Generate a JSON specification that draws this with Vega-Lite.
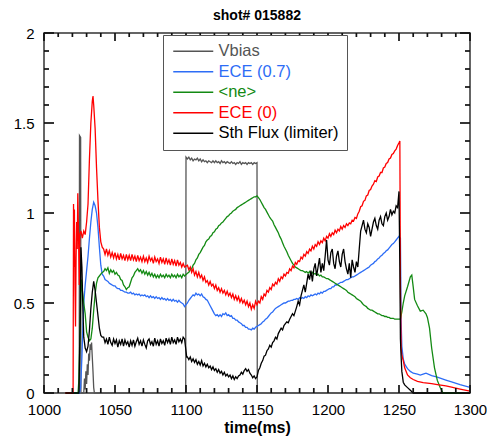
{
"$schema":"https://vega.github.io/schema/vega-lite/v6.json",
"width":426,"height":360,
"autosize":"none",
"padding":{"left":44,"top":33,"right":17,"bottom":46},
"background":"white",
"title":{"text":"shot# 015882","fontSize":14,"fontWeight":"bold","font":"Liberation Sans","color":"#000","offset":3,"frame":"group","anchor":"middle"},
"config":{"view":{"stroke":"#333","strokeWidth":1.5},"font":"Liberation Sans"},
"datasets":{
"xt":[{"v":1000,"m":1},{"v":1010,"m":0},{"v":1020,"m":0},{"v":1030,"m":0},{"v":1040,"m":0},{"v":1050,"m":1},{"v":1060,"m":0},{"v":1070,"m":0},{"v":1080,"m":0},{"v":1090,"m":0},{"v":1100,"m":1},{"v":1110,"m":0},{"v":1120,"m":0},{"v":1130,"m":0},{"v":1140,"m":0},{"v":1150,"m":1},{"v":1160,"m":0},{"v":1170,"m":0},{"v":1180,"m":0},{"v":1190,"m":0},{"v":1200,"m":1},{"v":1210,"m":0},{"v":1220,"m":0},{"v":1230,"m":0},{"v":1240,"m":0},{"v":1250,"m":1},{"v":1260,"m":0},{"v":1270,"m":0},{"v":1280,"m":0},{"v":1290,"m":0},{"v":1300,"m":1}],
"yt":[{"v":0,"m":1},{"v":0.1,"m":0},{"v":0.2,"m":0},{"v":0.3,"m":0},{"v":0.4,"m":0},{"v":0.5,"m":1},{"v":0.6,"m":0},{"v":0.7,"m":0},{"v":0.8,"m":0},{"v":0.9,"m":0},{"v":1,"m":1},{"v":1.1,"m":0},{"v":1.2,"m":0},{"v":1.3,"m":0},{"v":1.4,"m":0},{"v":1.5,"m":1},{"v":1.6,"m":0},{"v":1.7,"m":0},{"v":1.8,"m":0},{"v":1.9,"m":0},{"v":2,"m":1}],
"sig":[
{"t":1015,"vb":0,"e7":0,"ne":0,"e0":0,"sf":0},
{"t":1020.5,"e0":0},
{"t":1020.8,"e0":1.05},
{"t":1021.1,"e0":0.7},
{"t":1021.4,"e0":1.02},
{"t":1021.8,"e0":0.6},
{"t":1022.2,"e0":0.37},
{"t":1022.6,"e0":0.75},
{"t":1023,"e0":0.95},
{"t":1023.4,"e0":0.8},
{"t":1023.8,"e0":1.11},
{"t":1024,"ne":0},
{"t":1024.3,"e0":0.9},
{"t":1024.6,"ne":0.08,"sf":0},
{"t":1024.8,"e0":0.6,"vb":0},
{"t":1025,"vb":1.43,"e7":0},
{"t":1025.2,"e0":0.88},
{"t":1025.5,"ne":0.4,"sf":0.4},
{"t":1025.8,"vb":1.42,"e7":0.03},
{"t":1026,"vb":0,"sf":0.81,"e0":0.9},
{"t":1026.3,"ne":0.63},
{"t":1026.7,"sf":0.7,"e7":0.2},
{"t":1027,"ne":0.57,"e0":0.86},
{"t":1027.3,"sf":0.49},
{"t":1027.5,"e7":0.4},
{"t":1028,"ne":0.5,"e7":0.5,"sf":0.31,"e0":0.9,"vb":0},
{"t":1028.5,"vb":0.08},
{"t":1029,"ne":0.44,"sf":0.25,"e7":0.6,"vb":0.02,"e0":0.88},
{"t":1029.5,"vb":0.12},
{"t":1030,"ne":0.34,"sf":0.23,"e7":0.68,"vb":0.05,"e0":0.95},
{"t":1030.5,"vb":0.16},
{"t":1031,"ne":0.31,"sf":0.26,"e7":0.76,"vb":0.1,"e0":1.05},
{"t":1031.5,"vb":0.22},
{"t":1032,"ne":0.29,"sf":0.35,"e7":0.86,"vb":0.18,"e0":1.3},
{"t":1032.5,"vb":0.27},
{"t":1033,"ne":0.3,"sf":0.47,"e7":0.95,"vb":0.24,"e0":1.5},
{"t":1033.5,"vb":0.28},
{"t":1034,"ne":0.36,"sf":0.56,"e7":1.02,"vb":0.2,"e0":1.62},
{"t":1034.5,"vb":0.12,"e0":1.65},
{"t":1035,"ne":0.46,"sf":0.62,"e7":1.06,"vb":0.03,"e0":1.6},
{"t":1035.5,"vb":0},
{"t":1036,"ne":0.55,"sf":0.57,"e7":1.04,"e0":1.47},
{"t":1037,"ne":0.61,"sf":0.5,"e7":1.0,"e0":1.25},
{"t":1038,"ne":0.64,"sf":0.43,"e7":0.92,"e0":1.07},
{"t":1039,"ne":0.65,"sf":0.36,"e7":0.81,"e0":0.92},
{"t":1040,"ne":0.66,"sf":0.32,"e7":0.71,"e0":0.84},
{"t":1041,"vb":0,"ne":0.67,"sf":0.31,"e7":0.66,"e0":0.81},
{"t":1042,"e7":0.65,"ne":0.675,"e0":0.8,"sf":0.31},
{"t":1043,"e7":0.63,"ne":0.69,"e0":0.77,"sf":0.28},
{"t":1044,"e7":0.625,"ne":0.68,"e0":0.8,"sf":0.3},
{"t":1045,"e7":0.62,"ne":0.695,"e0":0.765,"sf":0.27},
{"t":1046,"e7":0.61,"ne":0.665,"e0":0.79,"sf":0.31},
{"t":1047,"e7":0.605,"ne":0.685,"e0":0.755,"sf":0.28},
{"t":1048,"e7":0.6,"ne":0.67,"e0":0.78,"sf":0.265},
{"t":1049,"e7":0.595,"ne":0.68,"e0":0.75,"sf":0.3},
{"t":1050,"e7":0.595,"ne":0.66,"e0":0.78,"sf":0.275},
{"t":1051,"e7":0.585,"ne":0.67,"e0":0.745,"sf":0.295},
{"t":1052,"e7":0.58,"ne":0.655,"e0":0.77,"sf":0.255},
{"t":1053,"e7":0.58,"ne":0.65,"e0":0.74,"sf":0.29},
{"t":1054,"e7":0.57,"ne":0.63,"e0":0.775,"sf":0.27},
{"t":1055,"e7":0.57,"ne":0.625,"e0":0.745,"sf":0.3},
{"t":1056,"e7":0.565,"ne":0.6,"e0":0.765,"sf":0.26},
{"t":1057,"e7":0.56,"ne":0.59,"e0":0.735,"sf":0.295},
{"t":1058,"e7":0.56,"ne":0.575,"e0":0.77,"sf":0.27},
{"t":1059,"e7":0.555,"ne":0.585,"e0":0.74,"sf":0.285},
{"t":1060,"e7":0.555,"ne":0.59,"e0":0.765,"sf":0.255},
{"t":1061,"e7":0.56,"ne":0.615,"e0":0.735,"sf":0.29},
{"t":1062,"e7":0.55,"ne":0.64,"e0":0.77,"sf":0.265},
{"t":1063,"e7":0.555,"ne":0.65,"e0":0.74,"sf":0.295},
{"t":1064,"e7":0.545,"ne":0.67,"e0":0.76,"sf":0.26},
{"t":1065,"e7":0.55,"ne":0.68,"e0":0.73,"sf":0.285},
{"t":1066,"e7":0.545,"ne":0.69,"e0":0.765,"sf":0.305},
{"t":1067,"e7":0.55,"ne":0.675,"e0":0.735,"sf":0.27},
{"t":1068,"e7":0.54,"ne":0.685,"e0":0.755,"sf":0.29},
{"t":1069,"e7":0.545,"ne":0.665,"e0":0.73,"sf":0.26},
{"t":1070,"e7":0.54,"ne":0.68,"e0":0.76,"sf":0.295},
{"t":1071,"e7":0.545,"ne":0.66,"e0":0.73,"sf":0.27},
{"t":1072,"e7":0.535,"ne":0.675,"e0":0.75,"sf":0.25},
{"t":1073,"e7":0.54,"ne":0.655,"e0":0.725,"sf":0.29},
{"t":1074,"e7":0.53,"ne":0.67,"e0":0.76,"sf":0.3},
{"t":1075,"e7":0.54,"ne":0.65,"e0":0.735,"sf":0.27},
{"t":1076,"e7":0.53,"ne":0.665,"e0":0.75,"sf":0.285},
{"t":1077,"e7":0.535,"ne":0.645,"e0":0.72,"sf":0.26},
{"t":1078,"e7":0.525,"ne":0.66,"e0":0.755,"sf":0.305},
{"t":1079,"e7":0.535,"ne":0.64,"e0":0.73,"sf":0.27},
{"t":1080,"e7":0.525,"ne":0.655,"e0":0.745,"sf":0.29},
{"t":1081,"e7":0.53,"ne":0.64,"e0":0.72,"sf":0.26},
{"t":1082,"e7":0.52,"ne":0.66,"e0":0.755,"sf":0.3},
{"t":1083,"e7":0.53,"ne":0.645,"e0":0.725,"sf":0.275},
{"t":1084,"e7":0.52,"ne":0.655,"e0":0.745,"sf":0.29},
{"t":1085,"e7":0.525,"ne":0.64,"e0":0.715,"sf":0.265},
{"t":1086,"e7":0.515,"ne":0.66,"e0":0.75,"sf":0.305},
{"t":1087,"e7":0.525,"ne":0.645,"e0":0.72,"sf":0.28},
{"t":1088,"e7":0.515,"ne":0.655,"e0":0.74,"sf":0.3},
{"t":1089,"e7":0.52,"ne":0.64,"e0":0.71,"sf":0.27},
{"t":1090,"e7":0.51,"ne":0.66,"e0":0.745,"sf":0.31},
{"t":1091,"e7":0.52,"ne":0.645,"e0":0.715,"sf":0.28},
{"t":1092,"e7":0.51,"ne":0.655,"e0":0.735,"sf":0.295},
{"t":1093,"e7":0.515,"ne":0.64,"e0":0.705,"sf":0.27},
{"t":1094,"e7":0.505,"ne":0.66,"e0":0.74,"sf":0.31},
{"t":1095,"e7":0.515,"ne":0.645,"e0":0.71,"sf":0.285},
{"t":1096,"e7":0.505,"ne":0.655,"e0":0.725,"sf":0.3},
{"t":1097,"e7":0.5,"ne":0.64,"e0":0.7,"sf":0.28},
{"t":1098,"e7":0.495,"ne":0.66,"e0":0.72,"sf":0.31},
{"t":1099,"e7":0.48,"ne":0.65,"e0":0.7,"sf":0.3},
{"t":1099.8,"vb":0},
{"t":1100,"vb":1.31},
{"t":1100.5,"sf":0.2},
{"t":1101,"e7":0.5,"ne":0.665,"e0":0.71,"sf":0.2,"vb":1.3},
{"t":1102,"e7":0.515,"ne":0.67,"e0":0.685,"sf":0.185,"vb":1.31},
{"t":1103,"e7":0.525,"ne":0.685,"e0":0.7,"sf":0.2,"vb":1.295},
{"t":1104,"e7":0.535,"ne":0.69,"e0":0.67,"sf":0.175,"vb":1.305},
{"t":1105,"e7":0.545,"ne":0.71,"e0":0.69,"sf":0.19,"vb":1.29},
{"t":1106,"e7":0.54,"ne":0.72,"e0":0.655,"sf":0.17,"vb":1.3},
{"t":1107,"e7":0.555,"ne":0.74,"e0":0.675,"sf":0.185,"vb":1.295},
{"t":1108,"e7":0.545,"ne":0.75,"e0":0.645,"sf":0.16,"vb":1.305},
{"t":1109,"e7":0.55,"ne":0.77,"e0":0.67,"sf":0.175,"vb":1.29},
{"t":1110,"e7":0.54,"ne":0.78,"e0":0.64,"sf":0.155,"vb":1.3},
{"t":1111,"e7":0.55,"ne":0.795,"e0":0.655,"sf":0.18,"vb":1.285},
{"t":1112,"e7":0.535,"ne":0.81,"e0":0.625,"sf":0.15,"vb":1.295},
{"t":1113,"e7":0.53,"ne":0.82,"e0":0.645,"sf":0.165,"vb":1.285},
{"t":1114,"e7":0.52,"ne":0.84,"e0":0.615,"sf":0.145,"vb":1.29},
{"t":1115,"e7":0.515,"ne":0.85,"e0":0.625,"sf":0.16,"vb":1.28},
{"t":1116,"e7":0.5,"ne":0.855,"e0":0.6,"sf":0.14,"vb":1.29},
{"t":1117,"e7":0.485,"ne":0.87,"e0":0.62,"sf":0.15,"vb":1.285},
{"t":1118,"e7":0.47,"ne":0.875,"e0":0.595,"sf":0.13,"vb":1.28},
{"t":1119,"e7":0.455,"ne":0.89,"e0":0.605,"sf":0.145,"vb":1.29},
{"t":1120,"e7":0.44,"ne":0.895,"e0":0.58,"sf":0.125,"vb":1.28},
{"t":1121,"e7":0.43,"ne":0.91,"e0":0.6,"sf":0.135,"vb":1.29},
{"t":1122,"e7":0.435,"ne":0.915,"e0":0.57,"sf":0.115,"vb":1.28},
{"t":1123,"e7":0.425,"ne":0.93,"e0":0.585,"sf":0.13,"vb":1.285},
{"t":1124,"e7":0.435,"ne":0.935,"e0":0.56,"sf":0.11,"vb":1.275},
{"t":1125,"e7":0.425,"ne":0.945,"e0":0.58,"sf":0.12,"vb":1.29},
{"t":1126,"e7":0.44,"ne":0.95,"e0":0.555,"sf":0.1,"vb":1.28},
{"t":1127,"e7":0.435,"ne":0.96,"e0":0.57,"sf":0.115,"vb":1.285},
{"t":1128,"e7":0.445,"ne":0.97,"e0":0.545,"sf":0.095,"vb":1.275},
{"t":1129,"e7":0.43,"ne":0.98,"e0":0.565,"sf":0.105,"vb":1.285},
{"t":1130,"e7":0.435,"ne":0.985,"e0":0.54,"sf":0.09,"vb":1.28},
{"t":1131,"e7":0.425,"ne":0.995,"e0":0.555,"sf":0.1,"vb":1.275},
{"t":1132,"e7":0.43,"ne":1.0,"e0":0.53,"sf":0.08,"vb":1.285},
{"t":1133,"e7":0.415,"ne":1.01,"e0":0.55,"sf":0.095,"vb":1.275},
{"t":1134,"e7":0.415,"ne":1.015,"e0":0.52,"sf":0.075,"vb":1.28},
{"t":1135,"e7":0.405,"ne":1.02,"e0":0.54,"sf":0.09,"vb":1.27},
{"t":1136,"e7":0.405,"ne":1.03,"e0":0.515,"sf":0.08,"vb":1.28},
{"t":1137,"e7":0.395,"ne":1.035,"e0":0.535,"sf":0.095,"vb":1.275},
{"t":1138,"e7":0.39,"ne":1.04,"e0":0.505,"sf":0.1,"vb":1.285},
{"t":1139,"e7":0.385,"ne":1.045,"e0":0.525,"sf":0.115,"vb":1.27},
{"t":1140,"e7":0.375,"ne":1.05,"e0":0.5,"sf":0.105,"vb":1.28},
{"t":1141,"e7":0.375,"ne":1.055,"e0":0.515,"sf":0.125,"vb":1.275},
{"t":1142,"e7":0.365,"ne":1.06,"e0":0.49,"sf":0.135,"vb":1.28},
{"t":1143,"e7":0.365,"ne":1.065,"e0":0.51,"sf":0.12,"vb":1.27},
{"t":1144,"e7":0.355,"ne":1.07,"e0":0.48,"sf":0.13,"vb":1.28},
{"t":1145,"e7":0.355,"ne":1.075,"e0":0.5,"sf":0.11,"vb":1.275},
{"t":1146,"e7":0.35,"ne":1.08,"e0":0.465,"sf":0.1,"vb":1.28},
{"t":1147,"e7":0.36,"ne":1.085,"e0":0.49,"sf":0.085,"vb":1.27},
{"t":1148,"e7":0.355,"ne":1.09,"e0":0.47,"sf":0.095,"vb":1.28},
{"t":1149,"e7":0.365,"ne":1.09,"e0":0.51,"sf":0.08,"vb":1.275},
{"t":1150,"vb":1.28,"e7":0.37,"ne":1.095,"e0":0.49,"sf":0.09},
{"t":1150.2,"vb":0},
{"t":1151,"e7":0.375,"ne":1.085,"e0":0.51,"sf":0.125},
{"t":1152,"e7":0.38,"ne":1.075,"e0":0.5,"sf":0.14},
{"t":1153,"e7":0.385,"ne":1.06,"e0":0.535,"sf":0.165},
{"t":1154,"e7":0.395,"ne":1.045,"e0":0.52,"sf":0.18},
{"t":1155,"e7":0.4,"ne":1.03,"e0":0.55,"sf":0.205},
{"t":1156,"e7":0.41,"ne":1.02,"e0":0.54,"sf":0.21},
{"t":1157,"e7":0.415,"ne":1.005,"e0":0.57,"sf":0.235},
{"t":1158,"e7":0.425,"ne":0.99,"e0":0.56,"sf":0.245},
{"t":1159,"e7":0.435,"ne":0.975,"e0":0.585,"sf":0.265},
{"t":1160,"e7":0.445,"ne":0.965,"e0":0.575,"sf":0.255},
{"t":1161,"e7":0.45,"ne":0.955,"e0":0.605,"sf":0.28},
{"t":1162,"e7":0.46,"ne":0.935,"e0":0.595,"sf":0.29},
{"t":1163,"e7":0.47,"ne":0.92,"e0":0.615,"sf":0.31},
{"t":1164,"e7":0.475,"ne":0.905,"e0":0.605,"sf":0.3},
{"t":1165,"e7":0.48,"ne":0.89,"e0":0.635,"sf":0.33},
{"t":1166,"e7":0.485,"ne":0.87,"e0":0.62,"sf":0.345},
{"t":1167,"e7":0.49,"ne":0.855,"e0":0.645,"sf":0.36},
{"t":1168,"e7":0.495,"ne":0.835,"e0":0.635,"sf":0.35},
{"t":1169,"e7":0.5,"ne":0.815,"e0":0.66,"sf":0.375},
{"t":1170,"e7":0.5,"ne":0.8,"e0":0.65,"sf":0.385},
{"t":1171,"e7":0.505,"ne":0.785,"e0":0.67,"sf":0.395},
{"t":1172,"e7":0.51,"ne":0.765,"e0":0.665,"sf":0.39},
{"t":1173,"e7":0.51,"ne":0.75,"e0":0.69,"sf":0.41},
{"t":1174,"e7":0.515,"ne":0.735,"e0":0.68,"sf":0.425},
{"t":1175,"e7":0.515,"ne":0.72,"e0":0.705,"sf":0.44},
{"t":1176,"e7":0.52,"ne":0.71,"e0":0.695,"sf":0.43},
{"t":1177,"e7":0.52,"ne":0.7,"e0":0.725,"sf":0.455},
{"t":1178,"e7":0.525,"ne":0.695,"e0":0.715,"sf":0.48},
{"t":1179,"e7":0.52,"ne":0.69,"e0":0.735,"sf":0.51},
{"t":1180,"e7":0.53,"ne":0.685,"e0":0.73,"sf":0.49},
{"t":1181,"e7":0.525,"ne":0.68,"e0":0.755,"sf":0.54},
{"t":1182,"e7":0.53,"ne":0.68,"e0":0.745,"sf":0.57},
{"t":1183,"e7":0.525,"ne":0.675,"e0":0.77,"sf":0.6},
{"t":1184,"e7":0.535,"ne":0.67,"e0":0.76,"sf":0.56},
{"t":1185,"e7":0.53,"ne":0.675,"e0":0.785,"sf":0.61},
{"t":1186,"e7":0.54,"ne":0.665,"e0":0.775,"sf":0.66},
{"t":1187,"e7":0.535,"ne":0.675,"e0":0.8,"sf":0.63},
{"t":1188,"e7":0.545,"ne":0.66,"e0":0.79,"sf":0.68},
{"t":1189,"e7":0.54,"ne":0.67,"e0":0.815,"sf":0.62},
{"t":1190,"e7":0.545,"ne":0.66,"e0":0.8,"sf":0.69},
{"t":1191,"e7":0.55,"ne":0.665,"e0":0.825,"sf":0.72},
{"t":1192,"e7":0.545,"ne":0.655,"e0":0.815,"sf":0.65},
{"t":1193,"e7":0.555,"ne":0.66,"e0":0.84,"sf":0.7},
{"t":1194,"e7":0.55,"ne":0.65,"e0":0.825,"sf":0.75},
{"t":1195,"e7":0.56,"ne":0.655,"e0":0.845,"sf":0.67},
{"t":1196,"e7":0.555,"ne":0.645,"e0":0.835,"sf":0.72},
{"t":1197,"e7":0.565,"ne":0.645,"e0":0.86,"sf":0.68},
{"t":1198,"e7":0.565,"ne":0.64,"e0":0.845,"sf":0.76},
{"t":1199,"e7":0.57,"ne":0.635,"e0":0.87,"sf":0.85},
{"t":1200,"e7":0.575,"ne":0.635,"e0":0.86,"sf":0.74},
{"t":1201,"e7":0.58,"ne":0.63,"e0":0.885,"sf":0.71},
{"t":1202,"e7":0.58,"ne":0.625,"e0":0.87,"sf":0.78},
{"t":1203,"e7":0.59,"ne":0.62,"e0":0.89,"sf":0.8},
{"t":1204,"e7":0.59,"ne":0.615,"e0":0.88,"sf":0.72},
{"t":1205,"e7":0.6,"ne":0.61,"e0":0.905,"sf":0.69},
{"t":1206,"e7":0.6,"ne":0.605,"e0":0.89,"sf":0.76},
{"t":1207,"e7":0.605,"ne":0.6,"e0":0.91,"sf":0.79},
{"t":1208,"e7":0.61,"ne":0.595,"e0":0.9,"sf":0.73},
{"t":1209,"e7":0.615,"ne":0.59,"e0":0.925,"sf":0.7},
{"t":1210,"e7":0.615,"ne":0.585,"e0":0.91,"sf":0.77},
{"t":1211,"e7":0.62,"ne":0.58,"e0":0.93,"sf":0.8},
{"t":1212,"e7":0.625,"ne":0.575,"e0":0.92,"sf":0.73},
{"t":1213,"e7":0.63,"ne":0.57,"e0":0.94,"sf":0.69},
{"t":1214,"e7":0.63,"ne":0.56,"e0":0.93,"sf":0.66},
{"t":1215,"e7":0.635,"ne":0.555,"e0":0.945,"sf":0.72},
{"t":1216,"e7":0.64,"ne":0.55,"e0":0.94,"sf":0.64},
{"t":1217,"e7":0.645,"ne":0.545,"e0":0.96,"sf":0.74},
{"t":1218,"e7":0.645,"ne":0.54,"e0":0.955,"sf":0.7},
{"t":1219,"e7":0.65,"ne":0.535,"e0":0.975,"sf":0.67},
{"t":1220,"e7":0.655,"ne":0.525,"e0":0.97,"sf":0.73},
{"t":1221,"e7":0.66,"ne":0.52,"e0":0.995,"sf":0.7},
{"t":1222,"e7":0.665,"ne":0.515,"e0":1.01,"sf":0.8},
{"t":1223,"e7":0.67,"ne":0.51,"e0":1.035,"sf":0.9},
{"t":1224,"e7":0.675,"ne":0.5,"e0":1.04,"sf":0.93},
{"t":1225,"e7":0.68,"ne":0.49,"e0":1.065,"sf":0.96},
{"t":1226,"e7":0.685,"ne":0.485,"e0":1.07,"sf":0.91},
{"t":1227,"e7":0.69,"ne":0.48,"e0":1.095,"sf":0.89},
{"t":1228,"e7":0.695,"ne":0.47,"e0":1.1,"sf":0.94},
{"t":1229,"e7":0.7,"ne":0.465,"e0":1.125,"sf":0.92},
{"t":1230,"e7":0.71,"ne":0.46,"e0":1.13,"sf":0.87},
{"t":1231,"e7":0.715,"ne":0.46,"e0":1.15,"sf":0.91},
{"t":1232,"e7":0.72,"ne":0.455,"e0":1.16,"sf":0.95},
{"t":1233,"e7":0.73,"ne":0.45,"e0":1.18,"sf":0.97},
{"t":1234,"e7":0.735,"ne":0.445,"e0":1.175,"sf":0.93},
{"t":1235,"e7":0.745,"ne":0.44,"e0":1.2,"sf":0.91},
{"t":1236,"e7":0.75,"ne":0.44,"e0":1.205,"sf":0.96},
{"t":1237,"e7":0.76,"ne":0.435,"e0":1.225,"sf":0.98},
{"t":1238,"e7":0.765,"ne":0.43,"e0":1.225,"sf":0.94},
{"t":1239,"e7":0.775,"ne":0.43,"e0":1.25,"sf":0.93},
{"t":1240,"e7":0.78,"ne":0.425,"e0":1.255,"sf":0.98},
{"t":1241,"e7":0.79,"ne":0.425,"e0":1.275,"sf":1.0},
{"t":1242,"e7":0.795,"ne":0.42,"e0":1.28,"sf":0.96},
{"t":1243,"e7":0.805,"ne":0.42,"e0":1.3,"sf":0.98},
{"t":1244,"e7":0.815,"ne":0.415,"e0":1.305,"sf":1.02},
{"t":1245,"e7":0.825,"ne":0.415,"e0":1.325,"sf":0.99},
{"t":1246,"e7":0.83,"ne":0.415,"e0":1.33,"sf":1.01},
{"t":1247,"e7":0.84,"ne":0.41,"e0":1.345,"sf":1.0},
{"t":1248,"e7":0.85,"ne":0.41,"e0":1.355,"sf":1.04},
{"t":1249,"e7":0.86,"ne":0.41,"e0":1.375,"sf":1.03},
{"t":1250,"e7":0.87,"ne":0.41,"e0":1.39,"sf":1.12},
{"t":1250.6,"e0":1.4,"sf":0.7},
{"t":1251,"e0":0.6,"sf":0.3,"ne":0.41,"e7":0.86},
{"t":1251.5,"e0":0.25,"sf":0.2,"e7":0.4},
{"t":1252,"e7":0.26,"e0":0.21,"sf":0.12,"ne":0.45},
{"t":1253,"e7":0.19,"e0":0.18,"sf":0.06,"ne":0.5},
{"t":1254,"e7":0.16,"e0":0.14,"sf":0.045,"ne":0.54},
{"t":1256,"e7":0.135,"e0":0.1,"sf":0.03,"ne":0.59},
{"t":1258,"e7":0.12,"e0":0.085,"sf":0.015,"ne":0.645},
{"t":1259,"ne":0.655},
{"t":1260,"e7":0.11,"e0":0.075,"sf":0,"ne":0.59},
{"t":1261,"ne":0.52},
{"t":1263,"e7":0.105,"e0":0.065,"ne":0.485},
{"t":1265,"e7":0.1,"ne":0.455},
{"t":1267,"e7":0.105,"e0":0.058,"ne":0.46},
{"t":1269,"e7":0.11,"ne":0.44},
{"t":1270,"ne":0.42},
{"t":1271.5,"ne":0.36},
{"t":1273,"e7":0.097,"e0":0.052,"ne":0.25},
{"t":1275,"ne":0.14},
{"t":1277,"e7":0.088,"e0":0.047,"ne":0.07},
{"t":1279,"ne":0.03},
{"t":1281,"ne":0},
{"t":1283,"e7":0.072,"e0":0.04},
{"t":1287,"e7":0.062,"e0":0.033},
{"t":1293,"e7":0.046,"e0":0.022},
{"t":1300,"e7":0.031,"e0":0.01,"ne":0,"sf":0,"vb":0}
]},
"layer":[
{"data":{"name":"sig"},
 "transform":[{"fold":["vb","e7","ne","e0","sf"],"as":["k","y"]},{"filter":"isValid(datum.y)"}],
 "mark":{"type":"line","strokeWidth":1.3},
 "encoding":{
  "x":{"field":"t","type":"quantitative","scale":{"domain":[1000,1300],"nice":false,"zero":false},
   "axis":{"orient":"bottom","values":[1000,1050,1100,1150,1200,1250,1300],
    "format":"d","labelOverlap":false,"labelFlush":false,"ticks":false,"domain":false,"grid":false,
    "labelPadding":9,"labelFontSize":15,"labelColor":"#000","labelFont":"Liberation Sans",
    "title":"time(ms)","titleFontSize":16,"titleFontWeight":"bold","titleColor":"#000","titlePadding":2,"titleFont":"Liberation Sans"}},
  "y":{"field":"y","type":"quantitative","scale":{"domain":[0,2],"nice":false},
   "axis":{"orient":"left","values":[0,0.5,1,1.5,2],
    "format":"~g","labelOverlap":false,"labelFlush":false,"ticks":false,"domain":false,"grid":false,
    "labelPadding":10,"labelFontSize":15,"labelColor":"#000","labelFont":"Liberation Sans","title":null}},
  "color":{"field":"k","type":"nominal",
   "scale":{"domain":["vb","e7","ne","e0","sf"],"range":["#555555","#2d6df6","#138a13","#ff0000","#000000"]},
   "legend":{"orient":"none","legendX":119,"legendY":2,"title":null,"symbolType":"M-1.2,0L6.8,0","symbolSize":100,"symbolStrokeWidth":1.3,
    "labelFontSize":16.5,"labelFont":"Liberation Sans","labelOffset":31,"labelLimit":300,"padding":8,"rowPadding":3.5,
    "strokeColor":"#555","fillColor":"white",
    "labelExpr":"{'vb':'Vbias','e7':'ECE (0.7)','ne':'<ne>','e0':'ECE (0)','sf':'Sth Flux (limiter)'}[datum.value]",
    "encode":{"labels":{"update":{"fill":{"scale":"color","field":"value"}}}}}}
 }},
{"data":{"name":"xt"},"transform":[{"filter":"datum.m == 1"}],
 "mark":{"type":"tick","orient":"vertical","color":"#111","opacity":1,"size":8,"thickness":1.7,"yOffset":-4},
 "encoding":{"x":{"field":"v","type":"quantitative"},"y":{"datum":0}}},
{"data":{"name":"xt"},"transform":[{"filter":"datum.m == 0"}],
 "mark":{"type":"tick","orient":"vertical","color":"#111","opacity":1,"size":5,"thickness":1.7,"yOffset":-2.5},
 "encoding":{"x":{"field":"v","type":"quantitative"},"y":{"datum":0}}},
{"data":{"name":"xt"},"transform":[{"filter":"datum.m == 1"}],
 "mark":{"type":"tick","orient":"vertical","color":"#111","opacity":1,"size":8,"thickness":1.7,"yOffset":4},
 "encoding":{"x":{"field":"v","type":"quantitative"},"y":{"datum":2}}},
{"data":{"name":"xt"},"transform":[{"filter":"datum.m == 0"}],
 "mark":{"type":"tick","orient":"vertical","color":"#111","opacity":1,"size":4,"thickness":1.7,"yOffset":2},
 "encoding":{"x":{"field":"v","type":"quantitative"},"y":{"datum":2}}},
{"data":{"name":"yt"},"transform":[{"filter":"datum.m == 1"}],
 "mark":{"type":"tick","orient":"horizontal","color":"#111","opacity":1,"size":10,"thickness":1.7,"xOffset":5},
 "encoding":{"y":{"field":"v","type":"quantitative"},"x":{"datum":1000}}},
{"data":{"name":"yt"},"transform":[{"filter":"datum.m == 0"}],
 "mark":{"type":"tick","orient":"horizontal","color":"#111","opacity":1,"size":5,"thickness":1.7,"xOffset":2.5},
 "encoding":{"y":{"field":"v","type":"quantitative"},"x":{"datum":1000}}},
{"data":{"name":"yt"},"transform":[{"filter":"datum.m == 1"}],
 "mark":{"type":"tick","orient":"horizontal","color":"#111","opacity":1,"size":10,"thickness":1.7,"xOffset":-5},
 "encoding":{"y":{"field":"v","type":"quantitative"},"x":{"datum":1300}}},
{"data":{"name":"yt"},"transform":[{"filter":"datum.m == 0"}],
 "mark":{"type":"tick","orient":"horizontal","color":"#111","opacity":1,"size":5,"thickness":1.7,"xOffset":-2.5},
 "encoding":{"y":{"field":"v","type":"quantitative"},"x":{"datum":1300}}}
]
}
